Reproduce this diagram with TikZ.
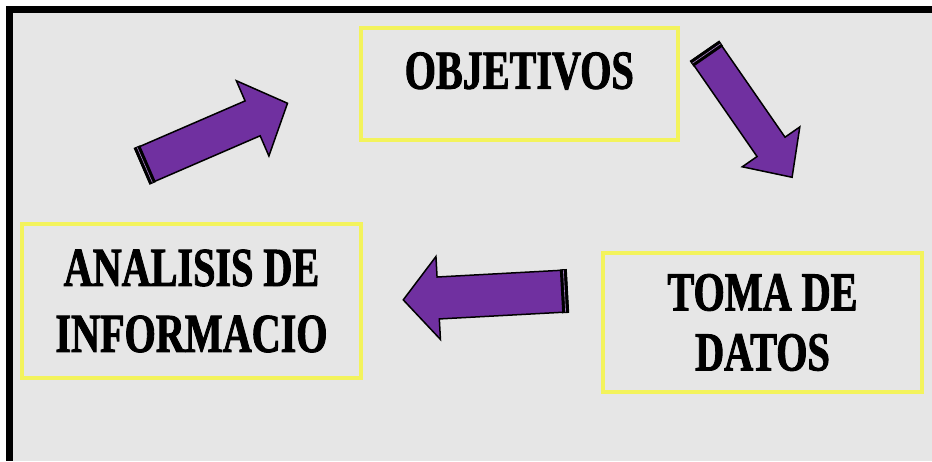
\documentclass[tikz,border=0pt]{standalone}
\usepackage{fontspec}
\newfontfamily\boxfont{Liberation Serif}[FakeStretch=0.73,FakeBold=1.6]
\usepackage{tikz}
\usetikzlibrary{calc}
\definecolor{bggray}{RGB}{230,230,230}
\definecolor{boxyellow}{RGB}{243,243,92}
\definecolor{arrowpurple}{RGB}{112,48,160}

% tail, angle, length, shaft half width, head half width, head length
\newcommand{\fatarrow}[6]{%
\begin{scope}[shift={(#1)},rotate=#2]
\filldraw[MyArrow] (0,-#4) -- ({#3-#6},-#4) -- ({#3-#6},-#5) -- (#3,0)
  -- ({#3-#6},#5) -- ({#3-#6},#4) -- (0,#4) -- cycle;
\fill[black] (-1,-#4-1) rectangle (6,#4+1);
\draw[arrowpurple!60,line width=0.6] (2.5,-#4) -- (2.5,#4);
\end{scope}}

\begin{document}
\begin{tikzpicture}[
x=1pt,y=-1pt,
MyBox/.style={draw=boxyellow,line width=3.5,inner sep=0,align=center,
  font=\boxfont\bfseries\fontsize{55}{66}\selectfont},
MyArrow/.style={draw=black,fill=arrowpurple,line width=1.5,line join=miter}
]
\useasboundingbox (0,0) rectangle (932,461);

% frame
\fill[white] (0,0) rectangle (932,461);
\fill[black] (6,6) rectangle (932,461);
\fill[bggray] (13,13) rectangle (932,461);

% boxes
\node[MyBox,minimum width=317,text height=61,text depth=51,anchor=north west] (obj) at (359,26) {OBJETIVOS};
\node[MyBox,minimum width=339,minimum height=154] (ana) at (191.5,301) {ANALISIS DE\\INFORMACIO};
\node[MyBox,minimum width=319,minimum height=139,
  font=\boxfont\bfseries\fontsize{55}{60}\selectfont] (toma) at (762.5,322.5) {TOMA DE\\DATOS};

% arrow tails
\coordinate (T1) at (142.5,166);
\coordinate (T2) at (705,51.5);
\coordinate (T3) at (567,291);

\fatarrow{T1}{23.4}{158}{19}{41}{38}
\fatarrow{T2}{-55.3}{153}{17}{35}{37}
\fatarrow{T3}{183.1}{164}{21}{41.5}{35}

\end{tikzpicture}
\end{document}
